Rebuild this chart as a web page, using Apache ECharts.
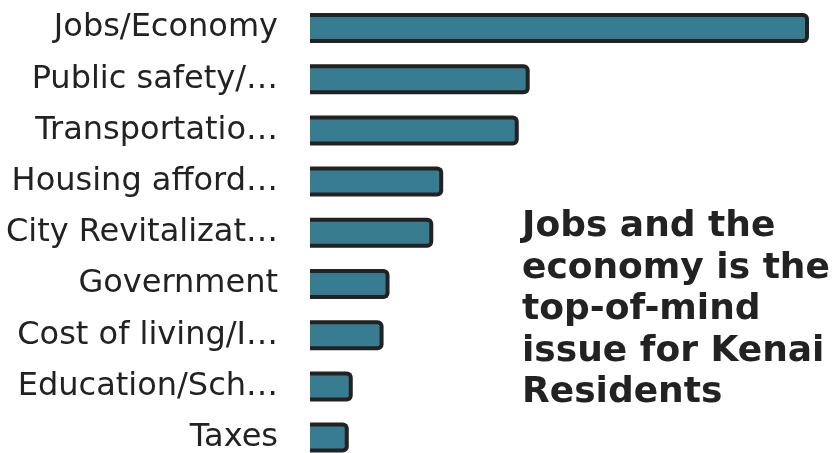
<!DOCTYPE html>
<html>
<head>
<meta charset="utf-8">
<script src="https://cdn.jsdelivr.net/npm/echarts@6/dist/echarts.min.js"></script>
<style>
  html, body { margin: 0; padding: 0; background: #ffffff; }
  #chart { width: 838px; height: 453px; }
</style>
</head>
<body>
<div id="chart"></div>
<script>
// Top-of-mind issues, share of mentions
var categories = [
  'Jobs/Economy',
  'Public safety/…',
  'Transportatio…',
  'Housing afford…',
  'City Revitalizat…',
  'Government',
  'Cost of living/I…',
  'Education/Sch…',
  'Taxes'
];
var values = [50, 21.9, 20.8, 13.2, 12.2, 7.8, 7.2, 4.1, 3.7];
var headline = 'Jobs and the\neconomy is the\ntop-of-mind\nissue for Kenai\nResidents';

var BAR_FILL = '#387c92';
var BAR_EDGE = '#222222';
var TEXT = '#222222';

var chart = echarts.init(document.getElementById('chart'), null, { renderer: 'canvas' });

// Bars: filled body with a dark outline on top, right and bottom edges
function renderBar(params, api) {
  var idx = api.value(1);
  var p0 = api.coord([0, idx]);
  var p1 = api.coord([api.value(0), idx]);
  var h = 26, bw = 4;
  var len = p1[0] - p0[0];
  return {
    type: 'group',
    children: [
      {
        type: 'rect',
        shape: { x: p0[0], y: p0[1] - h / 2 - bw / 2, width: len + bw / 2, height: h + bw, r: [0, 6, 6, 0] },
        style: { fill: BAR_EDGE }
      },
      {
        type: 'rect',
        shape: { x: p0[0], y: p0[1] - h / 2 + bw / 2, width: len - bw / 2, height: h - bw, r: [0, 2, 2, 0] },
        style: { fill: BAR_FILL }
      }
    ]
  };
}

chart.setOption({
  animation: false,
  backgroundColor: '#ffffff',
  title: {
    text: headline,
    left: 522,
    top: 206,
    padding: 0,
    textStyle: {
      fontFamily: 'DejaVu Sans',
      fontWeight: 'bold',
      fontSize: 36,
      lineHeight: 41.5,
      color: TEXT
    }
  },
  grid: {
    left: 310, top: 2.4, width: 497, height: 460.8,
    containLabel: false,
    outerBoundsMode: 'none'
  },
  xAxis: {
    type: 'value',
    min: 0,
    max: 50,
    show: false
  },
  yAxis: {
    type: 'category',
    data: categories,
    inverse: true,
    axisLine: { show: false },
    axisTick: { show: false },
    splitLine: { show: false },
    axisLabel: {
      margin: 32,
      fontFamily: 'DejaVu Sans',
      fontSize: 32,
      color: TEXT
    }
  },
  series: [{
    type: 'custom',
    renderItem: renderBar,
    encode: { x: 0, y: 1 },
    data: values.map(function (v, i) { return [v, i]; })
  }]
});
</script>
</body>
</html>
